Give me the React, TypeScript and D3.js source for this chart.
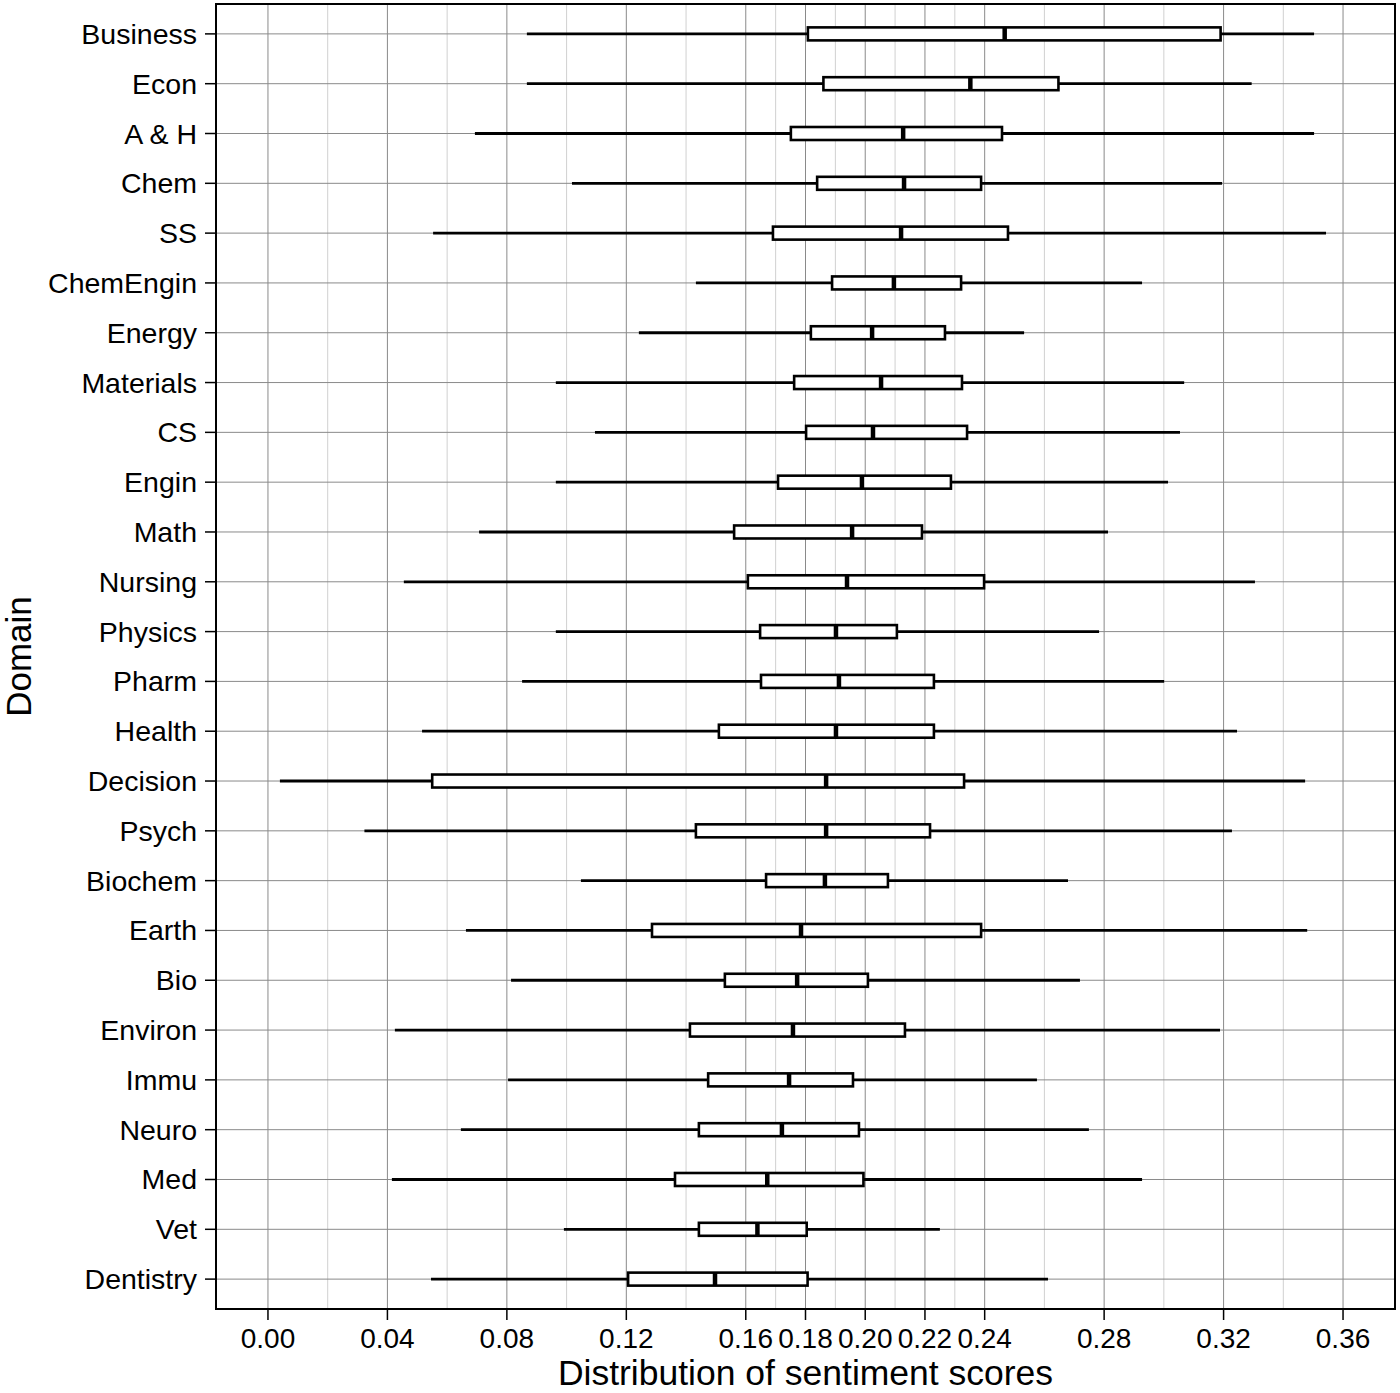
import React from "react";
import * as d3 from "d3";

const domains = [
  "Business", "Econ", "A & H", "Chem", "SS", "ChemEngin", "Energy", "Materials", "CS", "Engin",
  "Math", "Nursing", "Physics", "Pharm", "Health", "Decision", "Psych", "Biochem", "Earth", "Bio",
  "Environ", "Immu", "Neuro", "Med", "Vet", "Dentistry",
];
const whiskerLow = [
  0.0867, 0.0867, 0.0693, 0.1018, 0.0553, 0.1433, 0.1242, 0.0964, 0.1095, 0.0964,
  0.0707, 0.0455, 0.0964, 0.0851, 0.0516, 0.0040, 0.0323, 0.1048, 0.0663, 0.0814,
  0.0425, 0.0804, 0.0646, 0.0415, 0.0991, 0.0546,
];
const q1 = [
  0.1808, 0.1860, 0.1751, 0.1839, 0.1691, 0.1889, 0.1818, 0.1762, 0.1802, 0.1708,
  0.1561, 0.1607, 0.1648, 0.1651, 0.1510, 0.0550, 0.1433, 0.1668, 0.1286, 0.1530,
  0.1413, 0.1474, 0.1443, 0.1363, 0.1443, 0.1206,
];
const medians = [
  0.2467, 0.2352, 0.2127, 0.2130, 0.2120, 0.2096, 0.2023, 0.2053, 0.2026, 0.1989,
  0.1956, 0.1939, 0.1902, 0.1912, 0.1902, 0.1869, 0.1869, 0.1865, 0.1785, 0.1772,
  0.1758, 0.1745, 0.1721, 0.1672, 0.1639, 0.1497,
];
const q3 = [
  0.3190, 0.2647, 0.2458, 0.2388, 0.2478, 0.2321, 0.2267, 0.2324, 0.2341, 0.2287,
  0.2190, 0.2398, 0.2106, 0.2230, 0.2230, 0.2331, 0.2217, 0.2076, 0.2388, 0.2009,
  0.2133, 0.1959, 0.1979, 0.1994, 0.1804, 0.1807,
];
const whiskerHigh = [
  0.3503, 0.3294, 0.3503, 0.3195, 0.3543, 0.2927, 0.2532, 0.3068, 0.3054, 0.3014,
  0.2813, 0.3305, 0.2783, 0.3001, 0.3245, 0.3473, 0.3228, 0.2679, 0.3480, 0.2719,
  0.3188, 0.2575, 0.2749, 0.2927, 0.2250, 0.2612,
];
const majorTicks = [0.0, 0.04, 0.08, 0.12, 0.16, 0.18, 0.2, 0.22, 0.24, 0.28, 0.32, 0.36];
const minorTicks = [0.02, 0.06, 0.1, 0.14, 0.17, 0.19, 0.21, 0.23, 0.26, 0.3, 0.34];

const W = 1400;
const H = 1393;
const panel = { left: 216, right: 1395, top: 4, bottom: 1309 };
const FONT = "'Liberation Sans', Arial, Helvetica, sans-serif";

export default function App() {
  const x = d3.scaleLinear().domain([-0.0174, 0.3774]).range([panel.left, panel.right]);
  const y = d3.scalePoint<string>().domain(domains).range([panel.top, panel.bottom]).padding(0.6);
  const boxH = 13;
  const fmt = d3.format(".2f");

  return (
    <svg
      width={W}
      height={H}
      style={{ position: "absolute", left: 0, top: 0, display: "block", background: "#fff" }}
      fontFamily={FONT}
    >
      <rect x={0} y={0} width={W} height={H} fill="#fff" />
      {minorTicks.map((t) => (
        <line key={"mi" + t} x1={x(t)} x2={x(t)} y1={panel.top} y2={panel.bottom} stroke="#d0d0d0" strokeWidth={1} />
      ))}
      {majorTicks.map((t) => (
        <line key={"ma" + t} x1={x(t)} x2={x(t)} y1={panel.top} y2={panel.bottom} stroke="#8a8a8a" strokeWidth={1} />
      ))}
      {domains.map((d) => (
        <line key={"hg" + d} x1={panel.left} x2={panel.right} y1={y(d)} y2={y(d)} stroke="#8a8a8a" strokeWidth={1} />
      ))}
      {domains.map((d, i) => {
        const cy = y(d) as number;
        return (
          <g key={"b" + d}>
            <line x1={x(whiskerLow[i])} x2={x(q1[i])} y1={cy} y2={cy} stroke="#000" strokeWidth={2.8} />
            <line x1={x(q3[i])} x2={x(whiskerHigh[i])} y1={cy} y2={cy} stroke="#000" strokeWidth={2.8} />
            <rect
              x={x(q1[i])}
              y={cy - boxH / 2}
              width={x(q3[i]) - x(q1[i])}
              height={boxH}
              fill="#fff"
              stroke="#000"
              strokeWidth={2.6}
            />
            <line x1={x(medians[i])} x2={x(medians[i])} y1={cy - boxH / 2} y2={cy + boxH / 2} stroke="#000" strokeWidth={4.5} />
          </g>
        );
      })}
      <rect
        x={panel.left}
        y={panel.top}
        width={panel.right - panel.left}
        height={panel.bottom - panel.top}
        fill="none"
        stroke="#000"
        strokeWidth={2}
      />
      {domains.map((d) => (
        <g key={"yt" + d}>
          <line x1={panel.left - 11} x2={panel.left} y1={y(d)} y2={y(d)} stroke="#000" strokeWidth={1.5} />
          <text x={197} y={(y(d) as number) + 10} textAnchor="end" fontSize={28.5} fill="#000">
            {d}
          </text>
        </g>
      ))}
      {majorTicks.map((t) => (
        <g key={"xt" + t}>
          <line x1={x(t)} x2={x(t)} y1={panel.bottom} y2={panel.bottom + 11} stroke="#000" strokeWidth={1.5} />
          <text x={x(t)} y={1348} textAnchor="middle" fontSize={28} fill="#000">
            {fmt(t)}
          </text>
        </g>
      ))}
      <text x={(panel.left + panel.right) / 2} y={1385} textAnchor="middle" fontSize={35.5} fill="#000">
        Distribution of sentiment scores
      </text>
      <text
        transform={`translate(31, ${(panel.top + panel.bottom) / 2}) rotate(-90)`}
        textAnchor="middle"
        fontSize={35}
        fill="#000"
      >
        Domain
      </text>
    </svg>
  );
}
